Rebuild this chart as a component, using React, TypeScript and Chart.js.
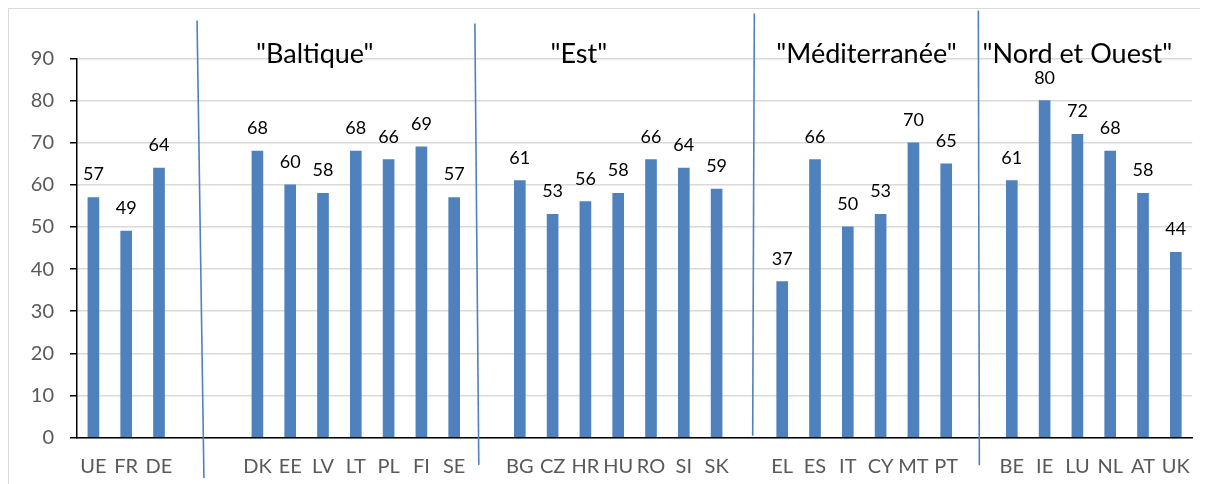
import React, { useEffect, useRef } from "react";
import { Chart, registerables } from "chart.js";

Chart.register(...registerables);

const categories = [
  "UE", "FR", "DE", "", "",
  "DK", "EE", "LV", "LT", "PL", "FI", "SE", "",
  "BG", "CZ", "HR", "HU", "RO", "SI", "SK", "",
  "EL", "ES", "IT", "CY", "MT", "PT", "",
  "BE", "IE", "LU", "NL", "AT", "UK",
];

const values: (number | null)[] = [
  57, 49, 64, null, null,
  68, 60, 58, 68, 66, 69, 57, null,
  61, 53, 56, 58, 66, 64, 59, null,
  37, 66, 50, 53, 70, 65, null,
  61, 80, 72, 68, 58, 44,
];

const yTicks = [0, 10, 20, 30, 40, 50, 60, 70, 80, 90];

const groupTitles = ['"Baltique"', '"Est"', '"Méditerranée"', '"Nord et Ouest"'];
// group title anchor (category index, value) — decoration
const groupTitleAt = [6.75, 14.8, 23.57, 30.0];
const groupTitleValue = 89;

// separator lines: [xTop, yTop, xBottom, yBottom] in (category index, value) space
const separators = [
  [3.16, 99.0, 3.37, -9.6],
  [11.63, 98.3, 11.75, -6.5],
  [20.15, 100.7, 20.1, 0.4],
  [26.98, 101.4, 27.01, -6.6],
];

const FONT = "Lato, 'Noto Sans', sans-serif";

const overlay = {
  id: "overlay",
  afterDatasetsDraw(chart: any) {
    const { ctx, scales } = chart;
    const x = scales.x;
    const y = scales.y;
    const meta = chart.getDatasetMeta(0);
    ctx.save();
    ctx.fillStyle = "#000000";
    ctx.font = `18px ${FONT}`;
    ctx.textAlign = "center";
    ctx.textBaseline = "alphabetic";
    meta.data.forEach((bar: any, i: number) => {
      const v = values[i];
      if (v == null) return;
      ctx.fillText(String(v), bar.x, bar.y - 17);
    });

    ctx.strokeStyle = "#4F81BD";
    ctx.lineWidth = 1.6;
    separators.forEach((s) => {
      ctx.beginPath();
      ctx.moveTo(x.getPixelForValue(s[0]), y.getPixelForValue(s[1]));
      ctx.lineTo(x.getPixelForValue(s[2]), y.getPixelForValue(s[3]));
      ctx.stroke();
    });

    ctx.font = `27px ${FONT}`;
    ctx.fillStyle = "#000000";
    groupTitles.forEach((t, i) => {
      ctx.fillText(t, x.getPixelForValue(groupTitleAt[i]), y.getPixelForValue(groupTitleValue));
    });
    ctx.restore();
  },
};

export default function App() {
  const ref = useRef<HTMLCanvasElement>(null);
  useEffect(() => {
    document.body.style.overflow = "hidden";
    const chart = new Chart(ref.current as HTMLCanvasElement, {
      type: "bar",
      data: {
        labels: categories,
        datasets: [
          {
            data: values as any,
            backgroundColor: "#4F81BD",
            barThickness: 11,
          },
        ],
      },
      options: {
        responsive: false,
        animation: false,
        layout: { padding: { top: 49.5, right: 14, bottom: 0, left: 0 } },
        plugins: {
          legend: { display: false },
          tooltip: { enabled: false },
          title: { display: false },
        },
        scales: {
          x: {
            grid: { display: false, drawTicks: false },
            border: { display: true, color: "#000000", width: 1.5 },
            ticks: {
              autoSkip: false,
              maxRotation: 0,
              minRotation: 0,
              color: "#595959",
              font: { family: FONT, size: 20 },
              padding: 17,
            },
            afterFit: (s: any) => {
              s.height = 47.5;
            },
          },
          y: {
            min: 0,
            max: 90,
            afterBuildTicks: (s: any) => {
              s.ticks = yTicks.map((v) => ({ value: v }));
            },
            grid: {
              color: "#d9d9d9",
              lineWidth: 1.5,
              tickLength: 7,
              tickColor: "#000000",
            },
            border: { display: true, color: "#000000", width: 1.5 },
            ticks: {
              color: "#595959",
              font: { family: FONT, size: 20 },
              padding: 16,
            },
            afterFit: (s: any) => {
              s.width = 68;
            },
          },
        },
      },
      plugins: [overlay],
    });
    return () => chart.destroy();
  }, []);
  return (
    <div
      style={{
        width: 1198,
        height: 476,
        border: "1px solid #d9d9d9",
      }}
    >
      <canvas ref={ref} width={1198} height={476} style={{ display: "block" }} />
    </div>
  );
}
